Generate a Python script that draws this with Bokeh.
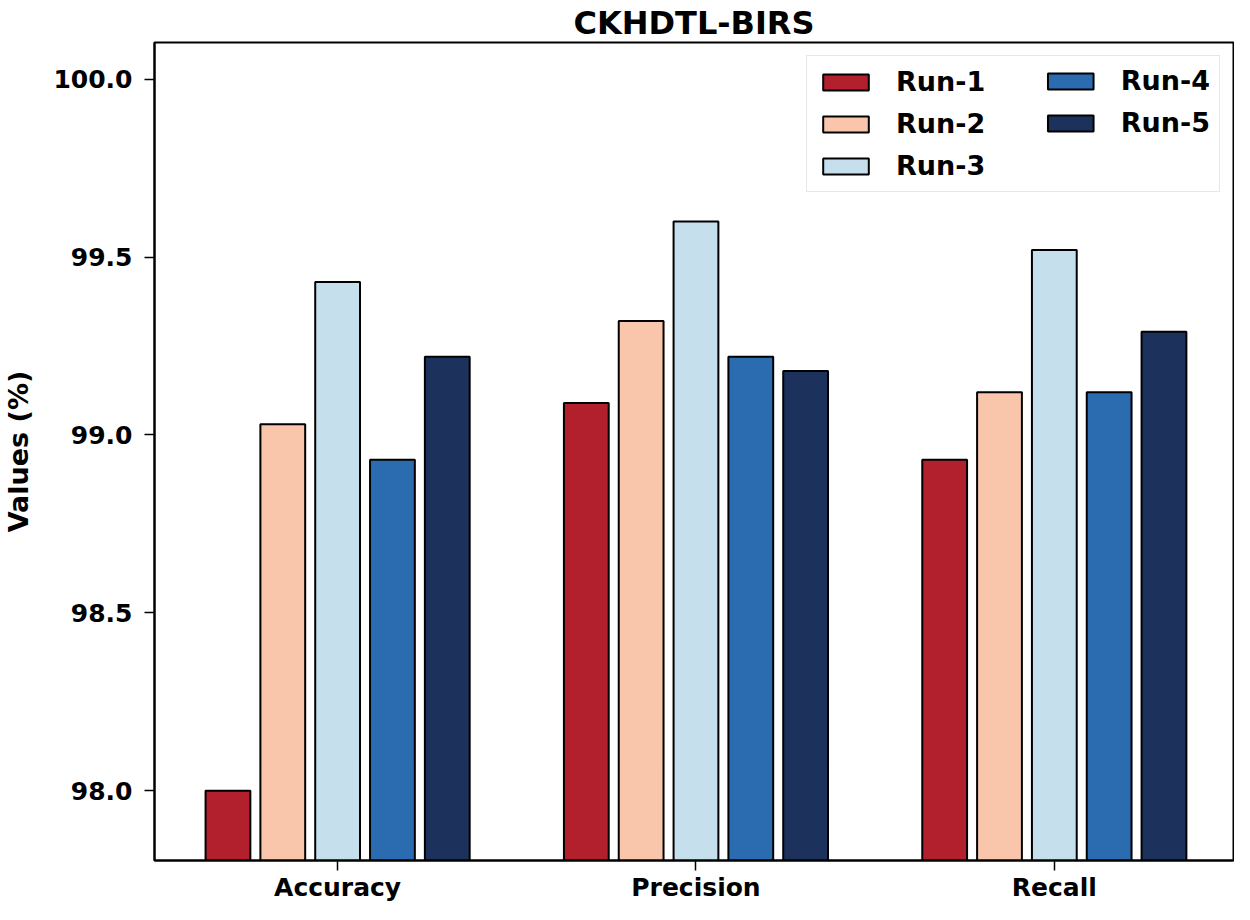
from bokeh.plotting import figure
from bokeh.models import FixedTicker, Range1d, Legend
from bokeh.embed import file_html
from bokeh.resources import INLINE

categories = ["Accuracy", "Precision", "Recall"]
runs = ["Run-1", "Run-2", "Run-3", "Run-4", "Run-5"]
run1 = [98.00, 99.09, 98.93]
run2 = [99.03, 99.32, 99.12]
run3 = [99.43, 99.60, 99.52]
run4 = [98.93, 99.22, 99.12]
run5 = [99.22, 99.18, 99.29]
colors = ["#b21f2d", "#f9c6ac", "#c5dfec", "#2b6cb0", "#1c325d"]
y_ticks = [98.0, 98.5, 99.0, 99.5, 100.0]

series = [run1, run2, run3, run4, run5]
offsets = [-0.306, -0.153, 0.0, 0.153, 0.306]
bar_w = 0.125
Y0, Y1 = 97.804, 100.103

FONT = "DejaVu Sans"

p = figure(width=1234, height=904, output_backend="svg", toolbar_location=None,
           x_range=Range1d(-0.511, 2.500), y_range=Range1d(Y0, Y1),
           min_border_left=147, min_border_right=1, min_border_top=39, min_border_bottom=42)

renderers = []
for i, (name, vals) in enumerate(zip(runs, series)):
    xs = [k + offsets[i] for k in range(len(categories))]
    r = p.vbar(x=xs, top=vals, bottom=Y0, width=bar_w, fill_color=colors[i],
               line_color="black", line_width=2)
    renderers.append(r)

p.title.text = "CKHDTL-BIRS"
p.title.align = "center"
p.title.text_font = FONT
p.title.text_font_size = "32px"
p.title.text_font_style = "bold"
p.title.text_color = "black"
p.title.standoff = 2

p.xgrid.visible = False
p.ygrid.visible = False
p.outline_line_color = "black"
p.outline_line_width = 2
p.outline_line_alpha = 1

p.xaxis.ticker = FixedTicker(ticks=list(range(len(categories))))
p.xaxis.major_label_overrides = {i: c for i, c in enumerate(categories)}
p.yaxis.ticker = FixedTicker(ticks=y_ticks)
p.yaxis.major_label_overrides = {t: f"{t:.1f}" for t in y_ticks}
p.yaxis.axis_label = "Values (%)"

for ax in (p.xaxis[0], p.yaxis[0]):
    ax.major_label_text_font = FONT
    ax.major_label_text_font_size = "25px"
    ax.major_label_text_font_style = "bold"
    ax.major_label_text_color = "black"
    ax.minor_tick_line_color = None
    ax.major_tick_in = 0
    ax.major_tick_out = 10
    ax.major_tick_line_width = 1.5
    ax.axis_line_width = 2
    ax.axis_line_color = "black"
    ax.axis_label_text_font = FONT
    ax.axis_label_text_font_size = "27px"
    ax.axis_label_text_font_style = "bold"
    ax.axis_label_text_color = "black"

p.xaxis.major_label_standoff = 2
p.yaxis.major_label_standoff = 12
p.yaxis.axis_label_standoff = 16


def make_legend(items, label_width, bordered, margin):
    lg = Legend(items=items, location="top_right", orientation="vertical")
    lg.label_text_font = FONT
    lg.label_text_font_size = "27px"
    lg.label_text_font_style = "bold"
    lg.label_text_color = "black"
    lg.glyph_width = 57
    lg.glyph_height = 20
    lg.label_standoff = 22
    lg.label_width = label_width
    lg.spacing = 11
    lg.padding = 10
    lg.margin = margin
    if bordered:
        lg.border_line_color = "#d0d0d0"
        lg.border_line_width = 1.5
        lg.background_fill_color = "white"
        lg.background_fill_alpha = 1
    else:
        lg.border_line_color = None
        lg.background_fill_alpha = 0
    return lg


items_a = [(runs[i], [renderers[i]]) for i in range(3)]
items_b = [(runs[i], [renderers[i]]) for i in range(3, 5)]
p.add_layout(make_legend(items_a, 313, True, 13))
p.add_layout(make_legend(items_b, 20, False, 23))

open("out.html", "w").write(file_html(p, INLINE))
